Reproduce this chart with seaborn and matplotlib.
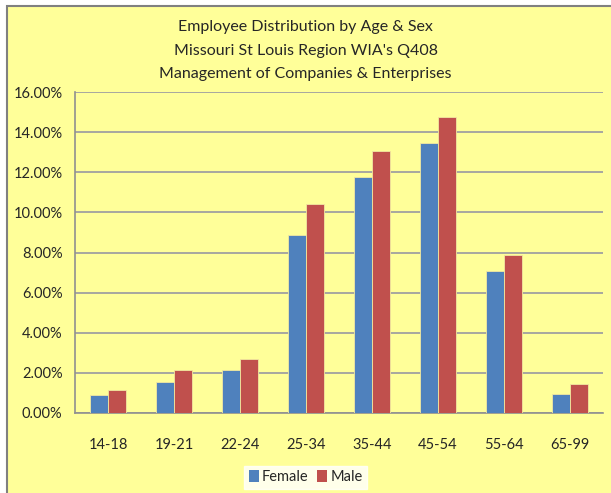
import matplotlib
matplotlib.use("Agg")
import matplotlib.pyplot as plt
import seaborn as sns
import pandas as pd
from matplotlib.patches import Rectangle
from matplotlib.ticker import FuncFormatter, FixedLocator

ages = ["14-18", "19-21", "22-24", "25-34", "35-44", "45-54", "55-64", "65-99"]
female = [0.88, 1.55, 2.15, 8.87, 11.75, 13.47, 7.08, 0.95]
male = [1.15, 2.15, 2.68, 10.40, 13.08, 14.74, 7.88, 1.43]

df = pd.DataFrame({
    "age": ages * 2,
    "pct": female + male,
    "sex": ["Female"] * len(ages) + ["Male"] * len(ages),
})

sns.set_style("white")
plt.rcParams["font.family"] = ["Lato", "DejaVu Sans"]

bg = "#FFFF99"
fig = plt.figure(figsize=(6.11, 4.93), dpi=100)
fig.patch.set_facecolor("white")
# chart frame
frame = Rectangle((7 / 611, -0.05), 1.0, 1.05 - 6 / 493, transform=fig.transFigure,
                  facecolor=bg, edgecolor="#808080", linewidth=1.5, zorder=-5)
fig.patches.append(frame)

ax = fig.add_axes([75 / 611, 80 / 493, 528 / 611, 321 / 493])
ax.set_facecolor(bg)

sns.barplot(data=df, x="age", y="pct", hue="sex", order=ages,
            palette={"Female": "#4F81BD", "Male": "#C0504D"},
            width=0.56, saturation=1, edgecolor="#F2E8A0", linewidth=0.6, ax=ax, zorder=3)

ax.set_ylim(0, 16)
ax.set_xlim(-0.5, len(ages) - 0.5)
ax.set_yticks(range(0, 17, 2))
ax.yaxis.set_major_formatter(FuncFormatter(lambda v, p: f"{v:.2f}%"))
ax.yaxis.grid(True, color="#A0A0A0", linewidth=1.3, zorder=0)
ax.set_axisbelow(True)

ax.xaxis.set_minor_locator(FixedLocator([i - 0.5 for i in range(len(ages) + 1)]))
ax.tick_params(axis="x", which="major", length=0, pad=18, labelsize=10.5)
ax.tick_params(axis="x", which="minor", length=5, color="#909090", width=1)
ax.tick_params(axis="y", length=5, color="#909090", width=1, labelsize=10.5, pad=4)

for s in ["top", "right"]:
    ax.spines[s].set_visible(False)
for s in ["left", "bottom"]:
    ax.spines[s].set_color("#909090")
    ax.spines[s].set_linewidth(1.2)

ax.set_xlabel("")
ax.set_ylabel("")

fig.text(0.5, 0.946, "Employee Distribution by Age & Sex", ha="center", va="center", fontsize=11.5)
fig.text(0.5, 0.897, "Missouri St Louis Region WIA's Q408", ha="center", va="center", fontsize=11.5)
fig.text(0.5, 0.849, "Management of Companies & Enterprises", ha="center", va="center", fontsize=11.5)

ax.get_legend().remove()
handles, labels = ax.get_legend_handles_labels()
leg = fig.legend(handles, labels, loc="center", bbox_to_anchor=(0.5, 0.032), ncol=2,
                 frameon=True, fancybox=False, handlelength=0.7, handleheight=0.9,
                 handletextpad=0.2, columnspacing=0.6, borderpad=0.3, fontsize=10.5)
leg.get_frame().set_facecolor("white")
leg.get_frame().set_edgecolor("white")
for h in leg.legend_handles:
    h.set_edgecolor("none")

fig.savefig("out.png", dpi=100, facecolor=fig.get_facecolor())
